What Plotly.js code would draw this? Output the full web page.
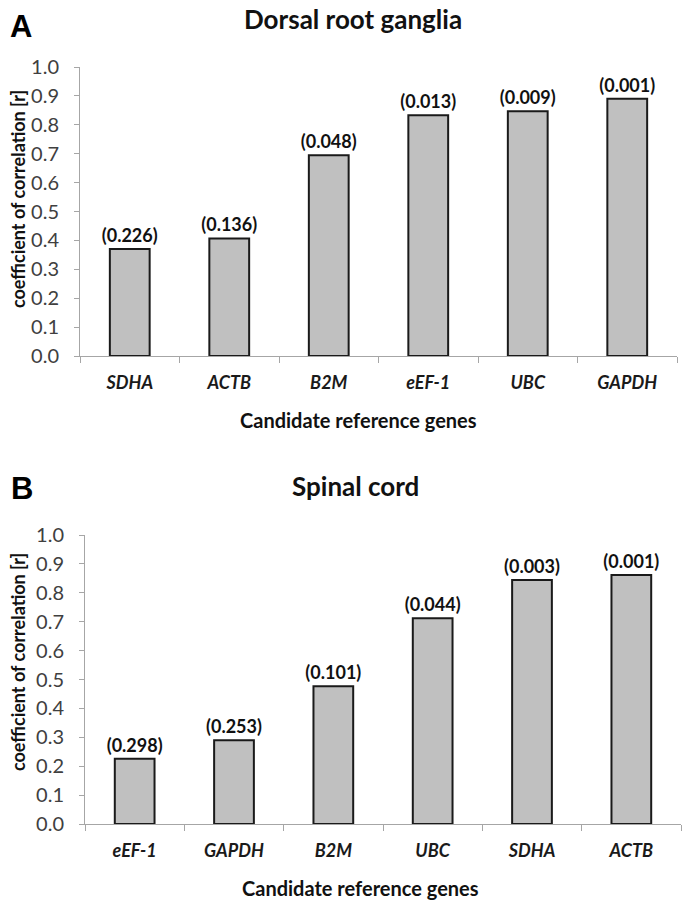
<!DOCTYPE html>
<html>
<head>
<meta charset="utf-8">
<script src="https://cdn.plot.ly/plotly-3.0.1.min.js"></script>
<style>
  html, body { margin: 0; padding: 0; background: #fff; }
  #chart { width: 689px; height: 903px; }
</style>
</head>
<body>
<div id="chart"></div>
<script>
// Panel A: dorsal root ganglia
const drgGenes = ['SDHA', 'ACTB', 'B2M', 'eEF-1', 'UBC', 'GAPDH'];
const drgR = [0.37, 0.407, 0.695, 0.833, 0.847, 0.89];
const drgP = ['(0.226)', '(0.136)', '(0.048)', '(0.013)', '(0.009)', '(0.001)'];

// Panel B: spinal cord
const scGenes = ['eEF-1', 'GAPDH', 'B2M', 'UBC', 'SDHA', 'ACTB'];
const scR = [0.226, 0.29, 0.477, 0.712, 0.844, 0.862];
const scP = ['(0.298)', '(0.253)', '(0.101)', '(0.044)', '(0.003)', '(0.001)'];

const W = 689, H = 903;
const FONT = 'Lato, "Open Sans", sans-serif';
const px = v => v / W;
const py = v => 1 - v / H;

function barTrace(genes, vals, labels, xa, ya) {
  return {
    type: 'bar',
    x: genes,
    y: vals,
    text: labels,
    textposition: 'outside',
    constraintext: 'none',
    textfont: { family: FONT, size: 18, weight: 'bold', color: '#111' },
    cliponaxis: false,
    marker: { color: '#c0c0c0', line: { color: '#1a1a1a', width: 2 } },
    xaxis: xa,
    yaxis: ya,
    hoverinfo: 'x+y',
  };
}

function catAxis(domain) {
  return {
    domain: domain,
    type: 'category',
    showline: true,
    linecolor: '#a6a6a6',
    linewidth: 1,
    ticks: 'outside',
    tickson: 'boundaries',
    ticklen: 6,
    tickcolor: '#a6a6a6',
    ticklabelstandoff: 10,
    tickfont: { family: FONT, size: 18, weight: 'bold', style: 'italic', color: '#1a1a1a' },
    showgrid: false,
    fixedrange: true,
  };
}

function valAxis(domain, anchor) {
  return {
    domain: domain,
    anchor: anchor,
    range: [0, 1],
    dtick: 0.1,
    tickformat: '.1f',
    showline: true,
    linecolor: '#a6a6a6',
    linewidth: 1,
    ticks: 'outside',
    ticklen: 5,
    tickcolor: '#a6a6a6',
    ticklabelstandoff: 11,
    tickfont: { family: FONT, size: 20, color: '#404040' },
    showgrid: false,
    zeroline: false,
    fixedrange: true,
  };
}

const data = [
  barTrace(drgGenes, drgR, drgP, 'x', 'y'),
  barTrace(scGenes, scR, scP, 'x2', 'y2'),
];

const txt = (text, x, y, size, extra) => Object.assign({
  text: text, x: px(x), y: py(y), xref: 'paper', yref: 'paper',
  showarrow: false, xanchor: 'center', yanchor: 'middle',
  font: { family: FONT, size: size, color: '#111', weight: 'bold' },
}, extra || {});

const letterFont = { family: 'Liberation Sans, Arial', size: 31, weight: 'bold', color: '#000' };

const layout = {
  width: W,
  height: H,
  margin: { l: 0, r: 0, t: 0, b: 0 },
  paper_bgcolor: '#fff',
  plot_bgcolor: '#fff',
  showlegend: false,
  bargap: 0.6,
  xaxis: Object.assign(catAxis([px(80), px(677)]), { anchor: 'y' }),
  yaxis: valAxis([py(356), py(67)], 'x'),
  xaxis2: Object.assign(catAxis([px(85), px(681)]), { anchor: 'y2' }),
  yaxis2: valAxis([py(824), py(535)], 'x2'),
  annotations: [
    txt('A', 21, 27, 31, { font: letterFont }),
    txt('B', 22, 488, 31, { font: letterFont }),
    txt('Dorsal root ganglia', 353, 19, 26),
    txt('Spinal cord', 355, 486, 26),
    txt('coefficient of correlation [r]', 18, 199, 18, { textangle: -90 }),
    txt('coefficient of correlation [r]', 18, 662, 18, { textangle: -90 }),
    txt('Candidate reference genes', 358, 420, 20),
    txt('Candidate reference genes', 360, 888, 20),
  ],
};

Plotly.newPlot('chart', data, layout, { displayModeBar: false, staticPlot: true });
</script>
</body>
</html>
